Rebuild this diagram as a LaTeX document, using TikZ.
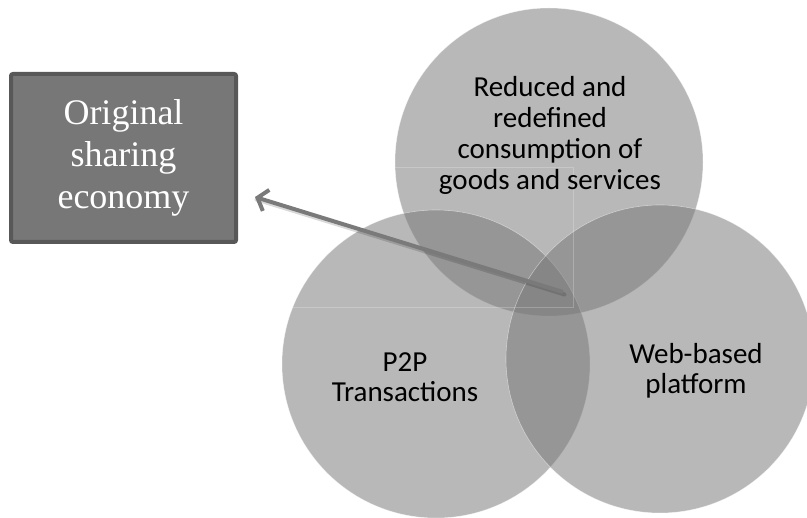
\documentclass[tikz,border=0pt]{standalone}
\usepackage{fontspec}
\setmainfont{Liberation Serif}
\newfontfamily\calib{Carlito}
\usetikzlibrary{arrows.meta}
\definecolor{boxfill}{HTML}{777777}
\definecolor{boxedge}{HTML}{585858}
\definecolor{arrowgray}{HTML}{7A7A7A}
\begin{document}
\begin{tikzpicture}[x=1pt,y=-1pt,
  venn/.style={circle, minimum size=308pt, inner sep=0pt, fill=black!53, fill opacity=0.52, draw=white, draw opacity=0.45, line width=0.6pt},
  lbl/.style={font=\calib\fontsize{29}{30.5}\selectfont, align=center, inner sep=0pt, text=black},
  toplbl/.style={lbl, font=\calib\fontsize{29}{31}\selectfont},
  origbox/.style={draw=boxedge, fill=boxfill, line width=4pt, rounded corners=2pt, minimum width=225pt, minimum height=168pt, inner sep=0pt, align=center, text=white, font=\fontsize{36}{42}\selectfont},
  faint/.style={draw=white, draw opacity=0.22, line width=0.7pt},
  linkarrow/.style={draw=arrowgray, line width=4pt, -{Straight Barb[length=9pt,width=22pt]}}
]
\useasboundingbox (0,0) rectangle (807,518);
\fill[white] (0,0) rectangle (807,518);

\node[venn] (top) at (549,162) {};
\node[venn] (left) at (436,364) {};
\node[venn] (right) at (660,359) {};

\draw[faint] (395,167) -- (573,167) -- (573,307) -- (293,307);

\node[toplbl] (toptext) at (550,135.5) {Reduced and\\redefined\\consumption of\\goods and services};
\node[lbl] (lefttext) at (405,377) {P2P\\Transactions};
\node[lbl] (righttext) at (696,371) {Web-based\\platform};

\node[origbox] (orig) at (123.5,158) {Original\\sharing\\economy};

\coordinate (atail) at (563,292);
\coordinate (ahead) at (255,197);
\draw[line width=4pt, black, opacity=0.15, line cap=round] ([shift={(1.5,2.5)}]atail) -- ([shift={(1.5,2.5)}]ahead);
\draw[linkarrow] (atail) -- (ahead);
\end{tikzpicture}
\end{document}
